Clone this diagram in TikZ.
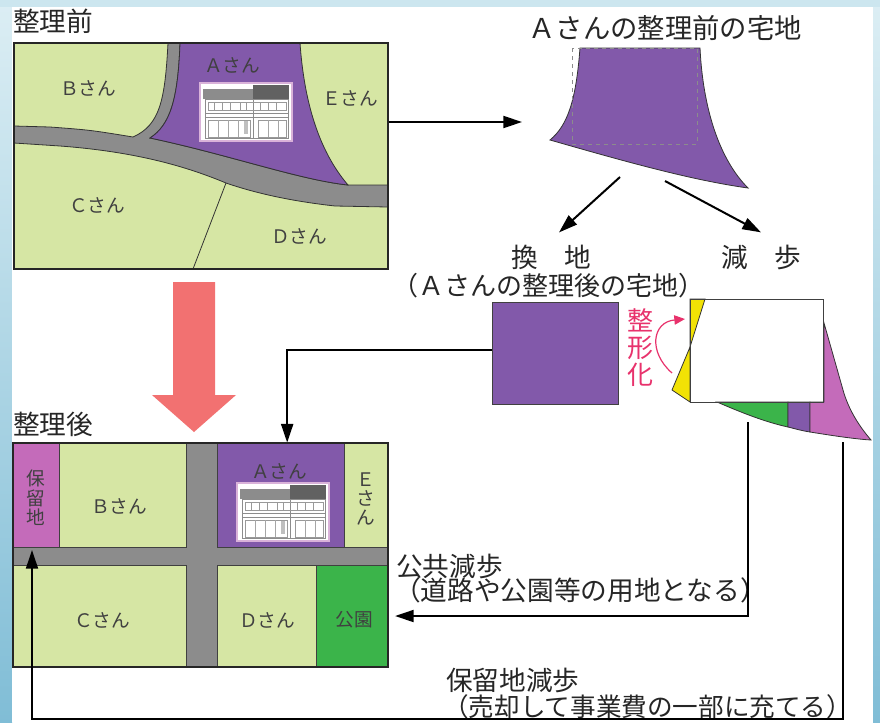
\documentclass[tikz,border=0pt]{standalone}
\usepackage{fontspec}
\setmainfont{Noto Sans CJK JP}
\usetikzlibrary{arrows.meta,positioning,fit,calc}
\definecolor{lotgreen}{HTML}{D6E6A4}
\definecolor{roadgray}{HTML}{8C8C8C}
\definecolor{lotpurple}{HTML}{8259AA}
\definecolor{resvpink}{HTML}{C46BBA}
\definecolor{parkgreen}{HTML}{3BB44A}
\definecolor{cutyellow}{HTML}{F2E205}
\definecolor{bigred}{HTML}{F27171}
\definecolor{shapepink}{HTML}{E8326C}
\definecolor{bgtop}{HTML}{DCEEF4}
\definecolor{bgbot}{HTML}{80BDD6}
\definecolor{bgstrip}{HTML}{CCE6EF}

\tikzset{
  house/.pic={
    \draw[draw=violet!30,fill=white,line width=.8pt] (0,0) rectangle (92,58);
    \fill[black!45] (3,6) rectangle (53,16);
    \fill[black!62] (53,2) rectangle (89,16);
    \draw[black!45,line width=.3pt] (5,16) rectangle (88,55)
      (5,30) -- (88,30) (5,34) -- (88,34) (53,16) -- (53,55);
    \draw[black!40,line width=.3pt] (8,19) rectangle (86,27);
    \foreach \x in {14,22,30,40,46,60,68,76}
      \draw[black!40,line width=.3pt] (\x,19) -- (\x,27);
    \draw[black!40,line width=.3pt] (8,37) rectangle (50,54) (58,37) rectangle (86,54);
    \foreach \x in {18,28,38,68,78}
      \draw[black!35,line width=.3pt] (\x,37) -- (\x,54);
    \fill[black!25] (44,38) rectangle (48,51);
  }
}

\begin{document}
\begin{tikzpicture}[x=.75pt,y=-.75pt,>={Triangle[length=14pt,width=9pt]},
  conn/.style={->,line width=1.5pt,draw=black},
  parcel/.style={fill=#1,draw=black!75,line width=.6pt,inner sep=0pt},
  piece/.style={fill=#1,draw=black!80,line width=.6pt},
  heading/.style={font=\fontsize{20pt}{24pt}\selectfont,inner sep=0pt,text=black!85},
  lotlab/.style={font=\fontsize{14pt}{14.6pt}\selectfont,inner sep=0pt,text=black!75,align=center}]
\useasboundingbox (0,0) rectangle (880,722);
% page background
\shade[top color=bgtop,bottom color=bgbot] (0,0) rectangle (12,722);
\shade[top color=bgtop,bottom color=bgbot] (873,0) rectangle (880,722);
\fill[bgstrip] (0,0) rectangle (880,7);
\fill[white] (12,7) rectangle (873,722);

% ---- before: map
\fill[lotgreen] (14,43) rectangle (388,269);
\coordinate (rv-lt) at (168,43);
\coordinate (rv-rt) at (180,43);
\coordinate (rv-rb) at (150,138);
\coordinate (la-tr) at (300,43);
\coordinate (la-br) at (348,185);
\coordinate (cd-top) at (226,183);
\coordinate (cd-bot) at (193,269);
\filldraw[fill=roadgray,draw=black!80,line width=.6pt] (14,126) -- (50,127) .. controls (90,130) .. (133,137)
  .. controls (160,125) and (165,100) .. (rv-lt) -- (rv-rt) .. controls (178,100) and (170,125) .. (rv-rb)
  .. controls (230,155) and (300,180) .. (la-br) -- (388,185) -- (388,207) -- (335,206)
  .. controls (290,201) and (255,193) .. (cd-top) .. controls (190,168) and (140,152) .. (60,146) -- (14,143) -- cycle;
\filldraw[fill=lotpurple,draw=black!80,line width=.6pt] (rv-rt) -- (la-tr) .. controls (304,100) and (318,150) .. (la-br)
  .. controls (300,180) and (230,155) .. (rv-rb) .. controls (170,125) and (178,100) .. (rv-rt) -- cycle;
\draw[black!80,line width=.6pt] (cd-top) -- (cd-bot);
\node[fit={(14,43)(388,269)},draw=black!85,line width=.8pt,inner sep=0pt] (premap) {};
\pic at (200,83) {house};
\node[lotlab] (pre-a) at (232,65) {Ａさん};
\node[lotlab] (pre-b) at (88,88) {Ｂさん};
\node[lotlab] (pre-e) at (350,98) {Ｅさん};
\node[lotlab] (pre-c) at (97,205) {Ｃさん};
\node[lotlab] (pre-d) at (299,236) {Ｄさん};
\node[heading] (pre-title) at (53,21) {整理前};

% ---- A's plot before
\filldraw[fill=lotpurple,draw=black!80,line width=.6pt] (580,48) -- (700,48) .. controls (703,110) and (720,160) .. (748,188)
  .. controls (690,180) and (620,160) .. (550,140) .. controls (568,125) and (576,100) .. (580,48) -- cycle;
\draw[black!45,dashed,line width=.7pt] (572,48) rectangle (697,144);
\node[heading,font=\fontsize{20.5pt}{24pt}\selectfont] (shape-title) at (665,28) {Ａさんの整理前の宅地};
\coordinate (shape-in) at (522,122);
\draw[conn] (shape-in -| premap.east) -- (shape-in);

\node[heading] (kanchi-lab) at (551,257) {換　地};
\node[heading] (genbu-lab) at (761,257) {減　歩};
\node[heading,font=\fontsize{19.5pt}{24pt}\selectfont] (kanchi-note) at (548,286) {（Ａさんの整理後の宅地）};
\coordinate (split-l) at (620,177);
\coordinate (split-r) at (665,181);
\draw[conn] (split-l) -- ([xshift=6pt,yshift=9pt]kanchi-lab.north);
\draw[conn] (split-r) -- ([yshift=9pt]genbu-lab.north);

% ---- replotting and reduction
\node[parcel=lotpurple,fit={(492,302)(618,404)}] (kanchi-sq) {};
\filldraw[piece=cutyellow] (690,299) -- (705,299) -- (690,347) -- cycle;
\filldraw[piece=cutyellow] (690,347) -- (672,390) -- (690,402) -- cycle;
\filldraw[piece=parkgreen] (717,402) .. controls (740,412) and (765,422) .. (788,427) -- (788,402) -- cycle;
\filldraw[piece=lotpurple] (788,402) -- (788,427) .. controls (796,429) and (803,431) .. (810,432) -- (810,402) -- cycle;
\filldraw[piece=resvpink] (810,402) -- (810,432) .. controls (835,436) and (855,439) .. (871,440)
  .. controls (858,425) and (848,408) .. (843,390) -- (824,323) -- (824,402) -- cycle;
\node[draw=black!75,line width=.6pt,inner sep=0pt,fit={(690,299)(823,402)}] (genbu-sq) {};
\node[heading,text=shapepink,align=center,font=\fontsize{19.5pt}{20.3pt}\selectfont] (seikei) at (640,348) {整\\形\\化};
\draw[-{Triangle[length=8pt,width=7pt]},shapepink,line width=.9pt] (672,373) .. controls (648,352) and (652,322) .. (685,319);

% big arrow between the maps
\fill[bigred] (173,282) -- (215,282) -- (215,395) -- (236,395) -- (194,432) -- (152,395) -- (173,395) -- cycle;

% ---- after: map
\node[heading] (post-title) at (53,424) {整理後};
\fill[roadgray] (13,443) rectangle (388,667);
\node[parcel=resvpink,fit={(13,443)(59,547)}] (resv) {};
\node[parcel=lotgreen,fit={(59,443)(186,547)}] (lotB) {};
\node[parcel=lotpurple,fit={(217,443)(344,547)}] (lotA) {};
\node[parcel=lotgreen,fit={(344,443)(388,547)}] (lotE) {};
\node[parcel=lotgreen,fit={(13,565)(186,667)}] (lotC) {};
\node[parcel=lotgreen,fit={(217,565)(316,667)}] (lotD) {};
\node[parcel=parkgreen,fit={(316,565)(388,667)}] (park) {};
\node[fit={(13,443)(388,667)},draw=black!85,line width=.8pt,inner sep=0pt] (postmap) {};
\pic at (237,483) {house};
\node[lotlab] (post-resv) at (36,498) {保\\留\\地};
\node[lotlab] (post-b) at (119,506) {Ｂさん};
\node[lotlab] (post-a) at (279,471) {Ａさん};
\node[lotlab] (post-e) at (366,499) {Ｅ\\さ\\ん};
\node[lotlab] (post-c) at (102,620) {Ｃさん};
\node[lotlab] (post-d) at (267,620) {Ｄさん};
\node[lotlab] (post-park) at (354,620) {公園};

\draw[conn] ([yshift=2.5pt]kanchi-sq.west) -| ([xshift=5pt]lotA.north);

% ---- where the reduction goes
\node[heading,anchor=west] (pub-lab) at (396,566) {公共減歩};
\node[heading,anchor=west] (pub-note) at (394,590) {（道路や公園等の用地となる）};
\node[heading,anchor=west] (res-lab) at (446,680) {保留地減歩};
\node[heading,anchor=west,font=\fontsize{19.2pt}{24pt}\selectfont] (res-note) at (443,707) {（売却して事業費の一部に充てる）};
\coordinate (pub-cut) at (748,422);
\coordinate (res-cut) at (843,442);
\coordinate (res-turn) at (843,719);
\draw[conn] (pub-cut) |- ([xshift=5pt]park.east);
\draw[conn] (res-cut) -- (res-turn) -| ([xshift=-3pt,yshift=-2pt]resv.south);
\end{tikzpicture}
\end{document}
